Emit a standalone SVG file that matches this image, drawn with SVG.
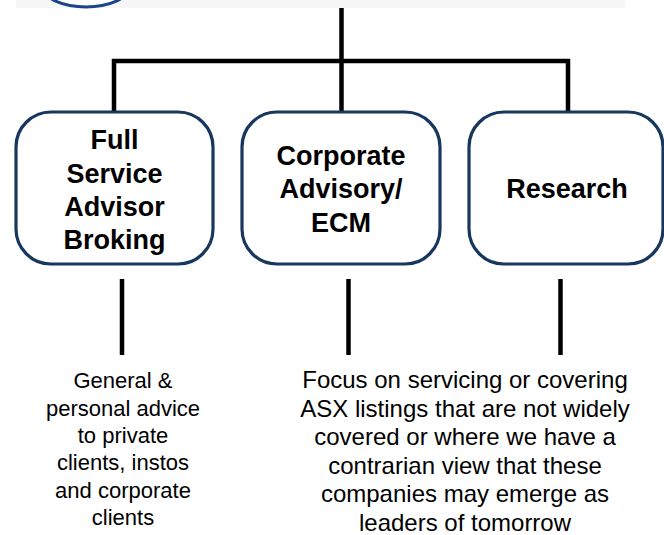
<svg xmlns="http://www.w3.org/2000/svg" width="664" height="535" viewBox="0 0 664 535">
<style>
.box{fill:#ffffff;stroke:#17375e;stroke-width:3.2}
.lbl{font-family:"Liberation Sans",Arial,sans-serif;font-weight:bold;font-size:27px;fill:#000;text-anchor:middle}
.desc{font-family:"Liberation Sans",Arial,sans-serif;fill:#000;text-anchor:middle}
.conn{stroke:#000;stroke-width:4.5;fill:none;stroke-linecap:butt}
</style>
<rect width="664" height="535" fill="#ffffff"/>
<g id="header">
<rect x="16" y="0" width="609" height="8" fill="#f6f6f6"/>
<ellipse cx="86" cy="-12" rx="42" ry="19" fill="#ffffff" stroke="#1c4587" stroke-width="3"/>
</g>
<g id="connectors">
<line class="conn" x1="341.5" y1="8" x2="341.5" y2="61"/>
<polyline class="conn" points="114,112 114,61 568,61 568,112"/>
<line class="conn" x1="341.5" y1="61" x2="341.5" y2="112"/>
<line class="conn" x1="122" y1="279" x2="122" y2="355"/>
<line class="conn" x1="348.5" y1="279" x2="348.5" y2="355"/>
<line class="conn" x1="560.5" y1="279" x2="560.5" y2="355"/>
</g>
<g id="node-full-service">
<rect class="box" x="16" y="112" width="197" height="152" rx="35" ry="35"/>
<text class="lbl" x="114.5"><tspan x="114.5" y="149.3">Full</tspan><tspan x="114.5" y="182.7">Service</tspan><tspan x="114.5" y="216">Advisor</tspan><tspan x="114.5" y="249.3">Broking</tspan></text>
</g>
<g id="node-corporate">
<rect class="box" x="242" y="112" width="198" height="152" rx="35" ry="35"/>
<text class="lbl" x="341"><tspan x="341" y="165">Corporate</tspan><tspan x="341" y="198.3">Advisory/</tspan><tspan x="341" y="231.7">ECM</tspan></text>
</g>
<g id="node-research">
<rect class="box" x="469" y="112" width="194" height="152" rx="35" ry="35"/>
<text class="lbl" x="567" y="198.3">Research</text>
</g>
<g id="desc-full-service">
<text class="desc" font-size="22"><tspan x="123" y="388.3">General &amp;</tspan><tspan x="123" y="415.6">personal advice</tspan><tspan x="123" y="442.9">to private</tspan><tspan x="123" y="470.2">clients, instos</tspan><tspan x="123" y="497.5">and corporate</tspan><tspan x="123" y="524.8">clients</tspan></text>
</g>
<g id="desc-research">
<text class="desc" font-size="24"><tspan x="465" y="388">Focus on servicing or covering</tspan><tspan x="465" y="416.6">ASX listings that are not widely</tspan><tspan x="465" y="445.2">covered or where we have a</tspan><tspan x="465" y="473.8">contrarian view that these</tspan><tspan x="465" y="502.4">companies may emerge as</tspan><tspan x="465" y="531">leaders of tomorrow</tspan></text>
</g>
</svg>
